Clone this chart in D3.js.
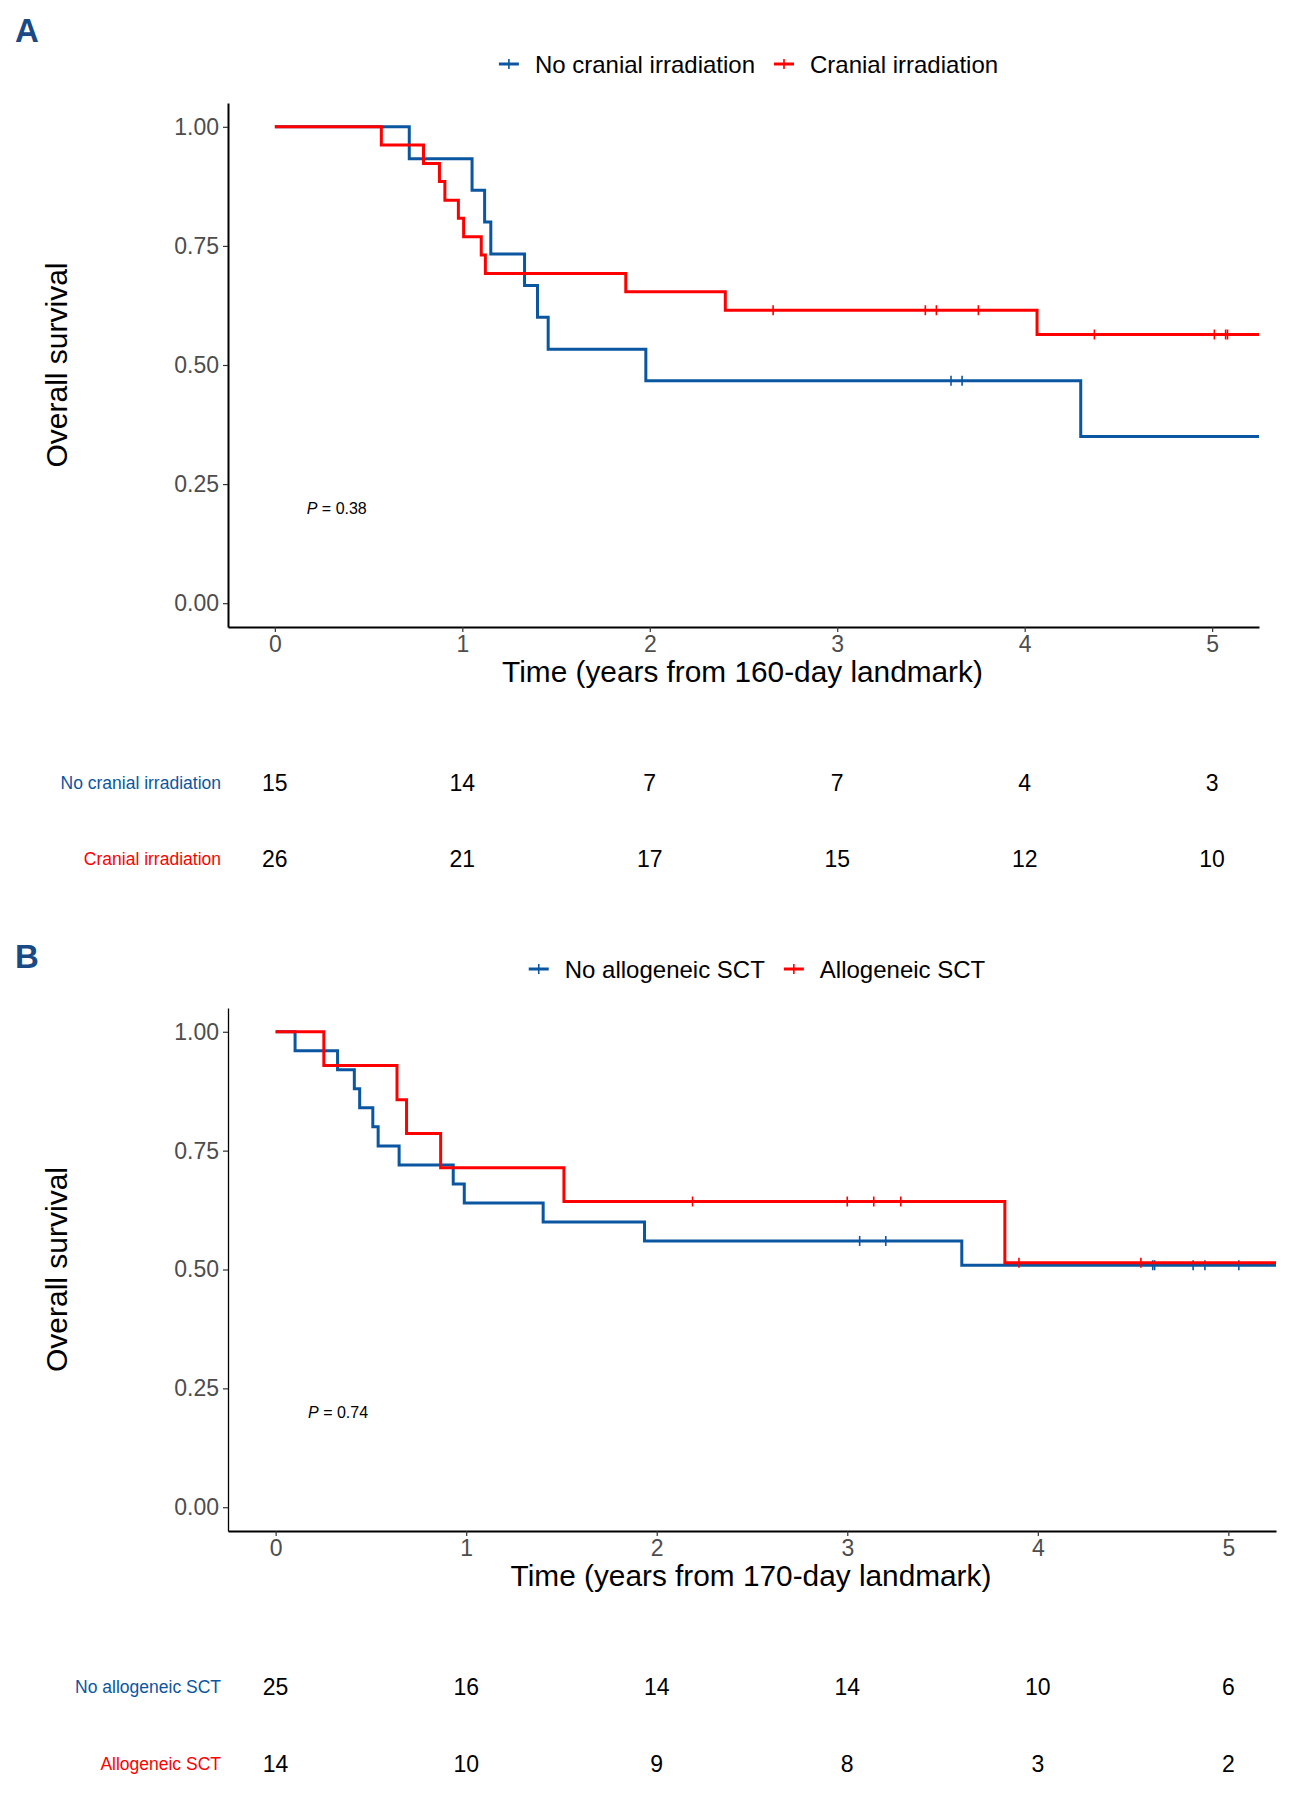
<!DOCTYPE html>
<meta charset="utf-8">
<head>
<style>
  body { margin: 0; background: #fff; }
  text { font-family: "Liberation Sans", Arial, sans-serif; }
</style>
</head>

<script src="https://d3js.org/d3.v7.min.js"></script>

<div id="my_dataviz"></div>

<script>

// axis tick values
var timeTicks = [0, 1, 2, 3, 4, 5];
var survTicks = [0, 0.25, 0.5, 0.75, 1];

// panel A : no cranial irradiation
var noCranialTime = [0, 0.717, 1.052, 1.119, 1.152, 1.332, 1.401, 1.458, 1.979, 4.299, 5.25];
var noCranialSurv = [1, 0.933, 0.867, 0.800, 0.733, 0.667, 0.600, 0.533, 0.467, 0.350, 0.350];
var noCranialCensor = [3.607, 3.666];
var noCranialRisk = [15, 14, 7, 7, 4, 3];

// panel A : cranial irradiation
var cranialTime = [0, 0.568, 0.793, 0.878, 0.907, 0.979, 1.007, 1.101, 1.123, 1.872, 2.403, 4.066, 5.25];
var cranialSurv = [1, 0.962, 0.923, 0.885, 0.846, 0.808, 0.769, 0.731, 0.692, 0.654, 0.615, 0.564, 0.564];
var cranialCensor = [2.658, 3.470, 3.529, 3.753, 4.372, 5.012, 5.072, 5.082];
var cranialRisk = [26, 21, 17, 15, 12, 10];

// panel B : no allogeneic SCT
var noAlloTime = [0, 0.102, 0.325, 0.413, 0.441, 0.510, 0.538, 0.648, 0.932, 0.990, 1.404, 1.936, 3.601, 5.25];
var noAlloSurv = [1, 0.96, 0.92, 0.88, 0.84, 0.80, 0.76, 0.72, 0.68, 0.64, 0.60, 0.56, 0.509, 0.509];
var noAlloCensor = [3.065, 3.202, 4.603, 4.613, 4.815, 4.877, 5.055];
var noAlloRisk = [25, 16, 14, 14, 10, 6];

// panel B : allogeneic SCT
var alloTime = [0, 0.253, 0.637, 0.687, 0.866, 1.513, 3.827, 5.25];
var alloSurv = [1, 0.929, 0.857, 0.786, 0.714, 0.643, 0.514, 0.514];
var alloCensor = [2.188, 3.000, 3.139, 3.281, 3.901, 4.541];
var alloRisk = [14, 10, 9, 8, 3, 2];

var blue = "#0b56a0", red = "#ff0000";

var panels = [
  {
    letter: "A", letterY: 42, legendY: 64,
    box: {left: 228, right: 1259, top: 103, bottom: 627}, axisW: [2, 2],
    xTitle: "Time (years from 160-day landmark)", xTitleY: 682,
    pval: "0.38", riskY: [783, 859],
    groups: [
      {name: "No cranial irradiation", color: blue, time: noCranialTime, surv: noCranialSurv, censor: noCranialCensor, risk: noCranialRisk},
      {name: "Cranial irradiation", color: red, time: cranialTime, surv: cranialSurv, censor: cranialCensor, risk: cranialRisk}
    ]
  },
  {
    letter: "B", letterY: 968, legendY: 969,
    box: {left: 228, right: 1276, top: 1008, bottom: 1531}, axisW: [1.3, 2],
    xTitle: "Time (years from 170-day landmark)", xTitleY: 1586,
    pval: "0.74", riskY: [1687, 1764],
    groups: [
      {name: "No allogeneic SCT", color: blue, time: noAlloTime, surv: noAlloSurv, censor: noAlloCensor, risk: noAlloRisk},
      {name: "Allogeneic SCT", color: red, time: alloTime, surv: alloSurv, censor: alloCensor, risk: alloRisk}
    ]
  }
];

var svg = d3.select("#my_dataviz")
  .append("svg")
    .attr("width", 1292)
    .attr("height", 1800);

function survAt(g, t) {
  var s = g.surv[0];
  for (var i = 0; i < g.time.length; i++) if (g.time[i] <= t) s = g.surv[i];
  return s;
}

panels.forEach(function(p) {
  var b = p.box;
  var x = d3.scaleLinear().domain([-0.25, 5.25]).range([b.left, b.right]);
  var y = d3.scaleLinear().domain([-0.05, 1.05]).range([b.bottom, b.top]);

  // panel letter
  svg.append("text")
    .attr("x", 15).attr("y", p.letterY)
    .attr("font-size", 33).attr("font-weight", "bold")
    .attr("fill", "#1a4a85")
    .text(p.letter);

  // legend, centred over the panel
  var leg = svg.append("g");
  var cx = 0;
  p.groups.forEach(function(g, i) {
    var item = leg.append("g").attr("transform", "translate(" + cx + ",0)");
    item.append("line").attr("x1", 0).attr("x2", 20).attr("y1", 0).attr("y2", 0)
      .attr("stroke", g.color).attr("stroke-width", 3);
    item.append("line").attr("x1", 10).attr("x2", 10).attr("y1", -5).attr("y2", 5)
      .attr("stroke", g.color).attr("stroke-width", 1.6);
    var t = item.append("text").attr("x", 36).attr("y", 8.5)
      .attr("font-size", 24).attr("fill", "#000").text(g.name);
    cx += 36 + t.node().getComputedTextLength() + 19;
  });
  var legW = cx - 19;
  leg.attr("transform", "translate(" + ((b.left + b.right) / 2 + 5 - legW / 2) + "," + p.legendY + ")");

  // curves
  var line = d3.line()
    .x(function(d) { return x(d[0]); })
    .y(function(d) { return y(d[1]); })
    .curve(d3.curveStepAfter);

  p.groups.forEach(function(g) {
    svg.append("path")
      .datum(d3.zip(g.time, g.surv))
      .attr("fill", "none")
      .attr("stroke", g.color)
      .attr("stroke-width", 3)
      .attr("d", line);

    svg.selectAll(null)
      .data(g.censor)
      .enter()
      .append("line")
        .attr("x1", function(d) { return x(d); })
        .attr("x2", function(d) { return x(d); })
        .attr("y1", function(d) { return y(survAt(g, d)) - 5; })
        .attr("y2", function(d) { return y(survAt(g, d)) + 5; })
        .attr("stroke", g.color)
        .attr("stroke-width", 1.6);
  });

  // axes
  var yAxis = svg.append("g")
    .attr("transform", "translate(" + b.left + ",0)")
    .call(d3.axisLeft(y).tickValues(survTicks).tickFormat(d3.format(".2f")).tickSize(5).tickSizeOuter(0).tickPadding(4));
  yAxis.select(".domain").attr("stroke", "#000").attr("stroke-width", p.axisW[0]);

  var xAxis = svg.append("g")
    .attr("transform", "translate(0," + b.bottom + ")")
    .call(d3.axisBottom(x).tickValues(timeTicks).tickFormat(d3.format("d")).tickSize(5).tickSizeOuter(0).tickPadding(4));
  xAxis.select(".domain").attr("stroke", "#000").attr("stroke-width", p.axisW[1]);

  [yAxis, xAxis].forEach(function(a) {
    a.selectAll(".tick line").attr("stroke", "#333").attr("stroke-width", 1.2);
    a.selectAll(".tick text")
      .attr("font-family", "'Liberation Sans', Arial, sans-serif")
      .attr("font-size", 23).attr("fill", "#4d4d4d");
  });

  // axis titles
  svg.append("text")
    .attr("transform", "translate(67," + ((b.top + b.bottom) / 2) + ") rotate(-90)")
    .attr("text-anchor", "middle")
    .attr("font-size", 30).attr("fill", "#000")
    .text("Overall survival");

  svg.append("text")
    .attr("x", (b.left + b.right) / 2 - 1).attr("y", p.xTitleY)
    .attr("text-anchor", "middle")
    .attr("font-size", 29.8).attr("fill", "#000")
    .text(p.xTitle);

  // p value
  var pt = svg.append("text")
    .attr("x", x(0.17)).attr("y", y(0.2) + 6)
    .attr("font-size", 16).attr("fill", "#000");
  pt.append("tspan").attr("font-style", "italic").text("P");
  pt.append("tspan").text(" = " + p.pval);

  // numbers at risk
  p.groups.forEach(function(g, i) {
    var ry = p.riskY[i];
    svg.append("text")
      .attr("x", 221).attr("y", ry + 6)
      .attr("text-anchor", "end")
      .attr("font-size", 17.5).attr("fill", g.color)
      .text(g.name);

    svg.selectAll(null)
      .data(d3.zip(timeTicks, g.risk))
      .enter()
      .append("text")
        .attr("x", function(d) { return x(d[0]); })
        .attr("y", ry + 8.3)
        .attr("text-anchor", "middle")
        .attr("font-size", 23).attr("fill", "#000")
        .text(function(d) { return d[1]; });
  });
});

</script>
